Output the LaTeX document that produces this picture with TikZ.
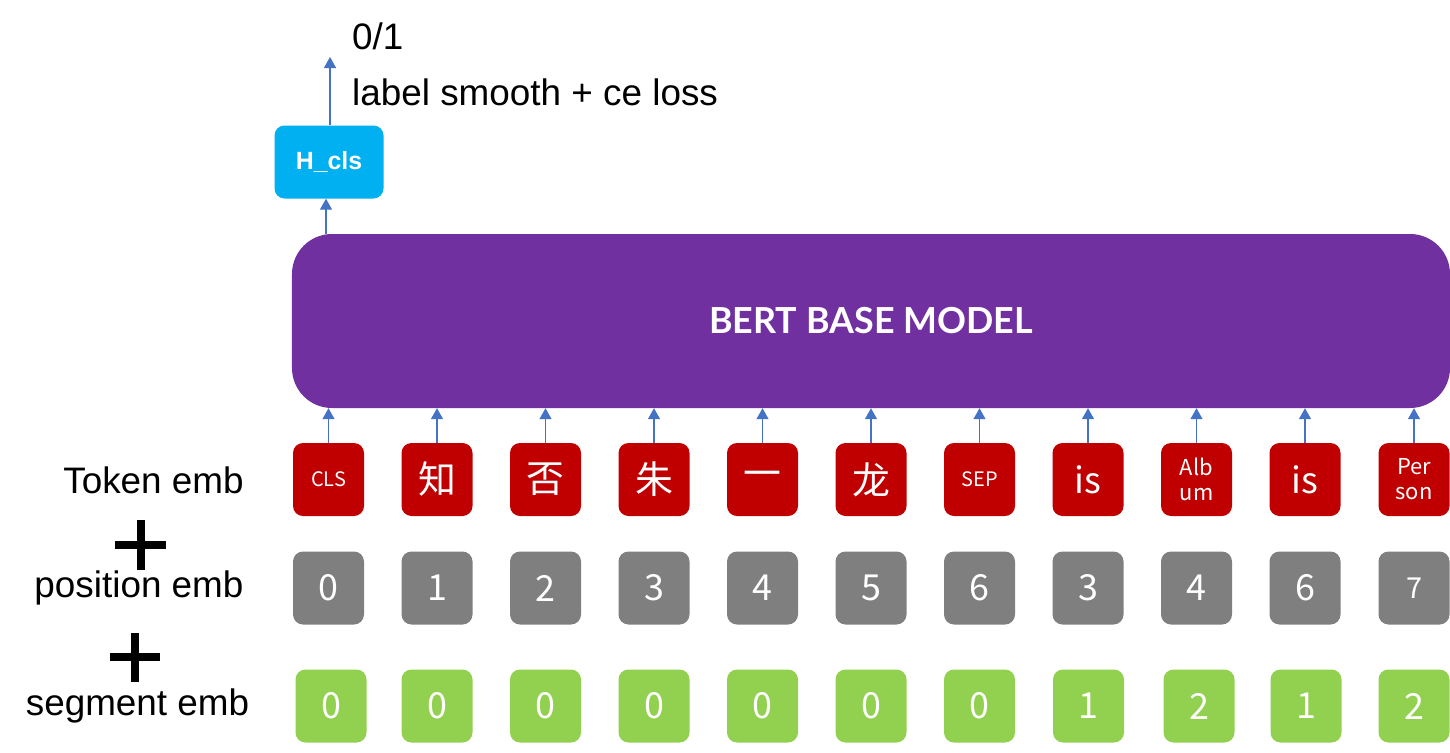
\documentclass[tikz,border=0pt]{standalone}
\usepackage{fontspec}
\setmainfont{Liberation Sans}
\newfontfamily\cjk{Noto Sans CJK SC}
\newfontfamily\lato{Lato}
\usetikzlibrary{arrows.meta}
\definecolor{tokred}{HTML}{C00000}
\definecolor{posgray}{HTML}{7F7F7F}
\definecolor{seggreen}{HTML}{92D050}
\definecolor{bertpurple}{HTML}{7030A0}
\definecolor{clsblue}{HTML}{00B0F0}
\definecolor{arrblue}{HTML}{4472C4}
\begin{document}
\begin{tikzpicture}[x=1bp,y=-1bp,
  embbox/.style={rounded corners=10bp, minimum width=71bp, minimum height=73bp, inner sep=0pt,
    text=white, align=center, font=\cjk\fontsize{36}{40}\selectfont},
  tokbox/.style={embbox, fill=tokred},
  posbox/.style={embbox, fill=posgray},
  segbox/.style={embbox, fill=seggreen},
  small/.style={font=\cjk\fontsize{20}{27}\selectfont},
  han/.style={font=\cjk\fontsize{38}{40}\selectfont},
  arr/.style={draw=arrblue, line width=1.3bp, -{Triangle[length=11bp,width=12bp]}},
  lbl/.style={font=\fontsize{37}{40}\selectfont, inner sep=0pt}
]
\useasboundingbox (0,0) rectangle (1450,752);

% BERT model
\node[fill=bertpurple, rounded corners=40bp, minimum width=1158bp, minimum height=174bp, inner sep=0pt,
  text=white, font=\lato\bfseries\fontsize{36}{40}\selectfont] (bert) at (871,321) {BERT BASE MODEL};

% H_cls
\node[fill=clsblue, rounded corners=10bp, minimum width=109bp, minimum height=73bp, inner sep=0pt,
  text=white, font=\bfseries\fontsize{25}{28}\selectfont] (hcls) at (329,162) {H\_cls};
\coordinate (out) at (330,57);
\draw[arr] (hcls.north -| out) -- (out);
\draw[arr] (bert.north -| 326,0) -- (hcls.south -| 326,0);

\node[lbl, anchor=base west] (res) at (352,50) {0/1};
\node[lbl, anchor=base west] (loss) at (352,105) {label smooth + ce loss};

% token row
\node[tokbox, small] (t1) at (328.5,479.5) {CLS};
\node[tokbox, han] (t2) at (437,479.5) {知};
\node[tokbox, han] (t3) at (545.5,479.5) {否};
\node[tokbox, han] (t4) at (654,479.5) {朱};
\node[tokbox, han] (t5) at (762.5,479.5) {一};
\node[tokbox, han] (t6) at (871,479.5) {龙};
\node[tokbox, small] (t7) at (979.5,479.5) {SEP};
\node[tokbox] (t8) at (1088,479.5) {is};
\node[tokbox, font=\cjk\fontsize{22}{27}\selectfont] (t9) at (1196.5,479.5) {Alb\\[-2bp]um};
\node[tokbox] (t10) at (1305,479.5) {is};
\node[tokbox, font=\cjk\fontsize{22}{27}\selectfont] (t11) at (1414,479.5) {Per\\[-2bp]son};

\foreach \i in {1,...,11} {
  \draw[arr] (t\i.north) -- (t\i.north |- bert.south);
}

% position row
\node[posbox] (p1) at (328.5,588) {0};
\node[posbox] (p2) at (437,588) {1};
\node[posbox] (p3) at (545.5,588) {2};
\node[posbox] (p4) at (654,588) {3};
\node[posbox] (p5) at (762.5,588) {4};
\node[posbox] (p6) at (871,588) {5};
\node[posbox] (p7) at (979.5,588) {6};
\node[posbox] (p8) at (1088,588) {3};
\node[posbox] (p9) at (1196.5,588) {4};
\node[posbox] (p10) at (1305,588) {6};
\node[posbox, font=\cjk\fontsize{29}{32}\selectfont] (p11) at (1414,588) {7};

% segment row
\node[segbox] (s1) at (331,706) {0};
\node[segbox] (s2) at (437,706) {0};
\node[segbox] (s3) at (545.5,706) {0};
\node[segbox] (s4) at (654,706) {0};
\node[segbox] (s5) at (762.5,706) {0};
\node[segbox] (s6) at (871,706) {0};
\node[segbox] (s7) at (979.5,706) {0};
\node[segbox] (s8) at (1088.5,706) {1};
\node[segbox] (s9) at (1199,706) {2};
\node[segbox] (s10) at (1306,706) {1};
\node[segbox] (s11) at (1414,706) {2};

% left labels
\node[lbl] (ltok) at (153.5,480) {Token emb};
\node[lbl] (lpos) at (139,588) {position emb};
\node[lbl] (lseg) at (137.5,706) {segment emb};
\draw[line width=8bp] (115,545) -- (166,545) (140.5,520) -- (140.5,570);
\draw[line width=8bp] (110,657) -- (160,657) (135,633) -- (135,682);
\end{tikzpicture}
\end{document}
